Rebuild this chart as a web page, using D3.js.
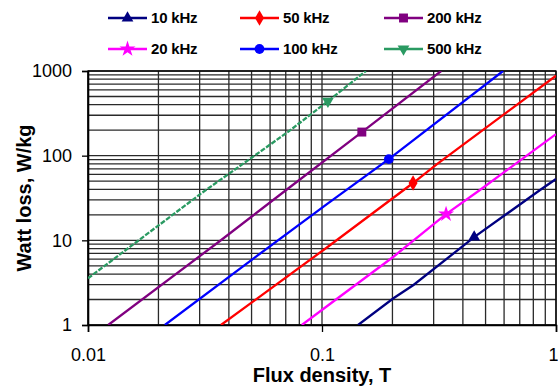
<!DOCTYPE html>
<html>
<head>
<meta charset="utf-8">
<script src="https://cdn.jsdelivr.net/npm/d3@7"></script>
<style>
  body { margin: 0; background: #fff; }
  svg { font-family: "Liberation Sans", Arial, sans-serif; }
</style>
</head>
<body>
<figure id="chart" style="margin:0"></figure>
<script>
// series (flux density T, watt loss W/kg)
const labels = ["10 kHz", "20 kHz", "50 kHz", "100 kHz", "200 kHz", "500 kHz"];
const flux10 = [0.1426, 0.202, 0.246, 0.447, 0.855, 1.0];
const loss10 = [1, 2.07, 2.97, 10.9, 39.3, 53];
const flux20 = [0.082, 0.106, 0.202, 0.339, 0.473, 1.0];
const loss20 = [1, 1.7, 6.4, 20.4, 39.3, 180];
const flux50 = [0.037, 0.106, 0.245, 0.309, 1.0];
const loss50 = [1, 8.4, 47.5, 79, 880];
const flux100 = [0.0213, 0.0499, 0.106, 0.193, 0.594];
const loss100 = [1, 5.85, 27.3, 91, 1000];
const flux200 = [0.0122, 0.0371, 0.0703, 0.148, 0.323];
const loss200 = [1, 10.1, 39.3, 190, 1000];
const flux500 = [0.01, 0.0305, 0.0716, 0.106, 0.154];
const loss500 = [3.56, 35.9, 191, 440, 1000];
const markerAt = [3, 3, 2, 3, 3, 3];
const xTicks = [0.01, 0.1, 1];
const yTicks = [1, 10, 100, 1000];

const colors = ["#000080", "#ff00ff", "#ff0000", "#0000ff", "#800080", "#2a9a62"];
const symbols = [d3.symbolTriangle, d3.symbolStar, d3.symbolDiamond, d3.symbolCircle, d3.symbolSquare, d3.symbolTriangle];
const symSize = [60, 80, 70, 75, 80, 60];
const symRot = [0, 0, 0, 0, 0, 180];

const fluxes = [flux10, flux20, flux50, flux100, flux200, flux500];
const losses = [loss10, loss20, loss50, loss100, loss200, loss500];
const series = labels.map((l, i) => ({
  label: l,
  pts: fluxes[i].map((b, j) => ({ b: b, w: losses[i][j] })),
  mark: markerAt[i]
}));

const W = 558, H = 388;
const margin = { top: 71, right: 2, bottom: 63, left: 88 };
const width = W - margin.left - margin.right;
const height = H - margin.top - margin.bottom;

const svg = d3.select("figure#chart")
  .append("svg")
  .attr("width", W)
  .attr("height", H);

const g = svg.append("g")
  .attr("transform", "translate(" + margin.left + "," + margin.top + ")");

const x = d3.scaleLog().domain([0.01, 1]).range([0, width]);
const y = d3.scaleLog().domain([1, 1000]).range([height, 0]);

// grid
g.append("g").selectAll("line")
  .data(x.ticks())
  .join("line")
  .attr("x1", d => x(d)).attr("x2", d => x(d))
  .attr("y1", 0).attr("y2", height)
  .style("stroke", "#2a2a2a").style("stroke-width", "1.3px");

g.append("g").selectAll("line")
  .data(y.ticks())
  .join("line")
  .attr("y1", d => y(d)).attr("y2", d => y(d))
  .attr("x1", 0).attr("x2", width)
  .style("stroke", "#2a2a2a").style("stroke-width", "1.3px");

g.append("rect")
  .attr("width", width).attr("height", height)
  .style("fill", "none").style("stroke", "#000").style("stroke-width", "1.3px");

// axes
const xAxis = g.append("g")
  .attr("transform", "translate(0," + height + ")")
  .call(d3.axisBottom(x).tickValues(xTicks).tickSize(7).tickPadding(16)
    .tickFormat(d => String(d)));
const yAxis = g.append("g")
  .call(d3.axisLeft(y).tickValues(yTicks).tickSize(6).tickPadding(10)
    .tickFormat(d => String(d)));
[xAxis, yAxis].forEach(a => {
  a.select(".domain").style("stroke", "#000").style("stroke-width", "1.6px");
  a.selectAll(".tick line").style("stroke", "#000").style("stroke-width", "1.3px");
  a.selectAll("text").style("font-size", "18px").style("fill", "#000")
    .style("font-family", "\"Liberation Sans\", Arial, sans-serif");
});
// last x label sits at the window edge; keep it inside
xAxis.selectAll(".tick").filter(d => d === 1).select("text")
  .attr("text-anchor", "end").attr("x", 2);

// curves
g.append("clipPath").attr("id", "plot-clip")
  .append("rect").attr("width", width).attr("height", height);

const line = d3.line()
  .x(d => x(d.b))
  .y(d => y(d.w));

const curves = g.append("g").attr("clip-path", "url(#plot-clip)");
series.forEach((s, i) => {
  curves.append("path")
    .datum(s.pts)
    .attr("d", line)
    .style("fill", "none")
    .style("stroke", colors[i])
    .style("stroke-width", "2.3px")
    .style("stroke-dasharray", i === 5 ? "5,1.5" : null);
});

series.forEach((s, i) => {
  const p = s.pts[s.mark];
  g.append("path")
    .attr("d", d3.symbol().type(symbols[i]).size(symSize[i])())
    .attr("transform", "translate(" + x(p.b) + "," + y(p.w) + ") rotate(" + symRot[i] + ")")
    .style("fill", colors[i]);
});

// legend
const colX = [108, 240, 384];
const rowY = [18, 49];
const legend = svg.append("g");
series.forEach((s, i) => {
  const lx = colX[Math.floor(i / 2)];
  const ly = rowY[i % 2];
  const item = legend.append("g").attr("transform", "translate(" + lx + "," + ly + ")");
  item.append("line")
    .attr("x1", 0).attr("x2", 39)
    .style("stroke", colors[i]).style("stroke-width", "2.5px");
  item.append("path")
    .attr("d", d3.symbol().type(symbols[i]).size(symSize[i])())
    .attr("transform", "translate(19.5,0) rotate(" + symRot[i] + ")")
    .style("fill", colors[i]);
  item.append("text")
    .attr("x", 43).attr("dy", "0.36em")
    .style("font-size", "15px")
    .style("font-weight", "bold")
    .style("letter-spacing", "-0.2px")
    .text(s.label);
});

// axis titles
svg.append("text")
  .attr("x", margin.left + x(0.1))
  .attr("y", 382)
  .attr("text-anchor", "middle")
  .style("font-size", "20px")
  .style("font-weight", "bold")
  .text("Flux density, T");

svg.append("text")
  .attr("transform", "translate(31,198) rotate(-90)")
  .attr("text-anchor", "middle")
  .style("font-size", "20px")
  .style("font-weight", "bold")
  .text("Watt loss, W/kg");
</script>
</body>
</html>
